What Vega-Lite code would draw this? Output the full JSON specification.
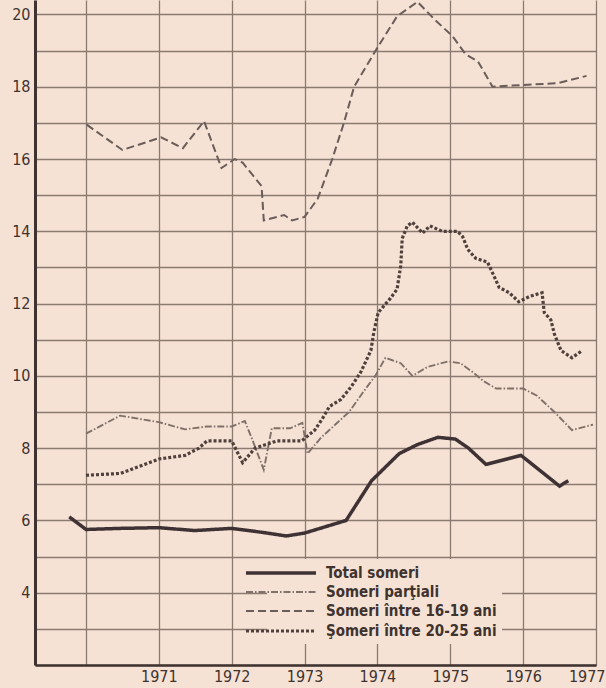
{
  "$schema": "https://vega.github.io/schema/vega-lite/v6.json",
  "width": 561,
  "height": 665,
  "autosize": {"type": "none"},
  "padding": {"left": 35, "top": 0, "right": 10, "bottom": 23},
  "background": "#f6e2d5",
  "config": {
    "view": {"stroke": null},
    "font": "DejaVu Sans Condensed",
    "legend": {
      "orient": "none", "legendX": 232, "legendY": 559,
      "title": null, "symbolType": "M-5,0H5", "symbolSize": 196,
      "labelFontSize": 15, "labelFontWeight": "bold", "labelColor": "#3f332f", "labelOffset": 36,
      "labelLimit": 400,
      "fillColor": "#f6e2d5", "padding": 5, "rowPadding": 3
    }
  },
  "data": {"values": [
    {"series": "Total someri", "year": 1969.77, "value": 6.1},
    {"series": "Total someri", "year": 1970.0, "value": 5.75},
    {"series": "Total someri", "year": 1970.47, "value": 5.78},
    {"series": "Total someri", "year": 1971.0, "value": 5.8},
    {"series": "Total someri", "year": 1971.49, "value": 5.72},
    {"series": "Total someri", "year": 1972.0, "value": 5.78},
    {"series": "Total someri", "year": 1972.42, "value": 5.67},
    {"series": "Total someri", "year": 1972.75, "value": 5.57},
    {"series": "Total someri", "year": 1973.0, "value": 5.65},
    {"series": "Total someri", "year": 1973.57, "value": 6.0},
    {"series": "Total someri", "year": 1973.92, "value": 7.1},
    {"series": "Total someri", "year": 1974.3, "value": 7.85},
    {"series": "Total someri", "year": 1974.55, "value": 8.1},
    {"series": "Total someri", "year": 1974.83, "value": 8.3},
    {"series": "Total someri", "year": 1975.07, "value": 8.25},
    {"series": "Total someri", "year": 1975.25, "value": 8.0},
    {"series": "Total someri", "year": 1975.49, "value": 7.55},
    {"series": "Total someri", "year": 1975.97, "value": 7.8},
    {"series": "Total someri", "year": 1976.5, "value": 6.95},
    {"series": "Total someri", "year": 1976.62, "value": 7.1},

    {"series": "Someri parţiali", "year": 1970.0, "value": 8.4},
    {"series": "Someri parţiali", "year": 1970.47, "value": 8.9},
    {"series": "Someri parţiali", "year": 1971.0, "value": 8.72},
    {"series": "Someri parţiali", "year": 1971.36, "value": 8.52},
    {"series": "Someri parţiali", "year": 1971.66, "value": 8.6},
    {"series": "Someri parţiali", "year": 1972.0, "value": 8.6},
    {"series": "Someri parţiali", "year": 1972.18, "value": 8.75},
    {"series": "Someri parţiali", "year": 1972.28, "value": 8.25},
    {"series": "Someri parţiali", "year": 1972.44, "value": 7.4},
    {"series": "Someri parţiali", "year": 1972.55, "value": 8.55},
    {"series": "Someri parţiali", "year": 1972.8, "value": 8.55},
    {"series": "Someri parţiali", "year": 1972.97, "value": 8.7},
    {"series": "Someri parţiali", "year": 1973.04, "value": 7.85},
    {"series": "Someri parţiali", "year": 1973.23, "value": 8.3},
    {"series": "Someri parţiali", "year": 1973.61, "value": 9.0},
    {"series": "Someri parţiali", "year": 1973.84, "value": 9.65},
    {"series": "Someri parţiali", "year": 1973.97, "value": 10.0},
    {"series": "Someri parţiali", "year": 1974.11, "value": 10.5},
    {"series": "Someri parţiali", "year": 1974.32, "value": 10.35},
    {"series": "Someri parţiali", "year": 1974.48, "value": 10.0},
    {"series": "Someri parţiali", "year": 1974.69, "value": 10.25},
    {"series": "Someri parţiali", "year": 1974.97, "value": 10.4},
    {"series": "Someri parţiali", "year": 1975.14, "value": 10.35},
    {"series": "Someri parţiali", "year": 1975.31, "value": 10.1},
    {"series": "Someri parţiali", "year": 1975.46, "value": 9.85},
    {"series": "Someri parţiali", "year": 1975.63, "value": 9.65},
    {"series": "Someri parţiali", "year": 1976.0, "value": 9.65},
    {"series": "Someri parţiali", "year": 1976.19, "value": 9.45},
    {"series": "Someri parţiali", "year": 1976.43, "value": 9.0},
    {"series": "Someri parţiali", "year": 1976.67, "value": 8.5},
    {"series": "Someri parţiali", "year": 1976.96, "value": 8.65},

    {"series": "Someri între 16-19 ani", "year": 1970.01, "value": 16.95},
    {"series": "Someri între 16-19 ani", "year": 1970.5, "value": 16.25},
    {"series": "Someri între 16-19 ani", "year": 1971.03, "value": 16.6},
    {"series": "Someri între 16-19 ani", "year": 1971.33, "value": 16.3},
    {"series": "Someri între 16-19 ani", "year": 1971.62, "value": 17.05},
    {"series": "Someri între 16-19 ani", "year": 1971.86, "value": 15.75},
    {"series": "Someri între 16-19 ani", "year": 1972.04, "value": 16.0},
    {"series": "Someri între 16-19 ani", "year": 1972.15, "value": 15.9},
    {"series": "Someri între 16-19 ani", "year": 1972.41, "value": 15.25},
    {"series": "Someri între 16-19 ani", "year": 1972.44, "value": 14.3},
    {"series": "Someri între 16-19 ani", "year": 1972.72, "value": 14.45},
    {"series": "Someri între 16-19 ani", "year": 1972.83, "value": 14.3},
    {"series": "Someri între 16-19 ani", "year": 1973.0, "value": 14.4},
    {"series": "Someri între 16-19 ani", "year": 1973.18, "value": 14.9},
    {"series": "Someri între 16-19 ani", "year": 1973.38, "value": 16.0},
    {"series": "Someri între 16-19 ani", "year": 1973.54, "value": 17.0},
    {"series": "Someri între 16-19 ani", "year": 1973.68, "value": 18.0},
    {"series": "Someri între 16-19 ani", "year": 1973.99, "value": 19.05},
    {"series": "Someri între 16-19 ani", "year": 1974.27, "value": 19.95},
    {"series": "Someri între 16-19 ani", "year": 1974.55, "value": 20.35},
    {"series": "Someri între 16-19 ani", "year": 1974.79, "value": 19.85},
    {"series": "Someri între 16-19 ani", "year": 1975.03, "value": 19.4},
    {"series": "Someri între 16-19 ani", "year": 1975.21, "value": 18.9},
    {"series": "Someri între 16-19 ani", "year": 1975.38, "value": 18.7},
    {"series": "Someri între 16-19 ani", "year": 1975.58, "value": 18.0},
    {"series": "Someri între 16-19 ani", "year": 1976.0, "value": 18.05},
    {"series": "Someri între 16-19 ani", "year": 1976.48, "value": 18.1},
    {"series": "Someri între 16-19 ani", "year": 1976.87, "value": 18.3},

    {"series": "Şomeri între 20-25 ani", "year": 1970.0, "value": 7.25},
    {"series": "Şomeri între 20-25 ani", "year": 1970.47, "value": 7.3},
    {"series": "Şomeri între 20-25 ani", "year": 1971.0, "value": 7.7},
    {"series": "Şomeri între 20-25 ani", "year": 1971.36, "value": 7.8},
    {"series": "Şomeri între 20-25 ani", "year": 1971.55, "value": 8.0},
    {"series": "Şomeri între 20-25 ani", "year": 1971.66, "value": 8.2},
    {"series": "Şomeri între 20-25 ani", "year": 1972.0, "value": 8.2},
    {"series": "Şomeri între 20-25 ani", "year": 1972.15, "value": 7.6},
    {"series": "Şomeri între 20-25 ani", "year": 1972.32, "value": 8.0},
    {"series": "Şomeri între 20-25 ani", "year": 1972.62, "value": 8.2},
    {"series": "Şomeri între 20-25 ani", "year": 1972.96, "value": 8.2},
    {"series": "Şomeri între 20-25 ani", "year": 1973.14, "value": 8.5},
    {"series": "Şomeri între 20-25 ani", "year": 1973.24, "value": 8.8},
    {"series": "Şomeri între 20-25 ani", "year": 1973.34, "value": 9.15},
    {"series": "Şomeri între 20-25 ani", "year": 1973.5, "value": 9.35},
    {"series": "Şomeri între 20-25 ani", "year": 1973.64, "value": 9.7},
    {"series": "Şomeri între 20-25 ani", "year": 1973.77, "value": 10.1},
    {"series": "Şomeri între 20-25 ani", "year": 1973.91, "value": 10.7},
    {"series": "Şomeri între 20-25 ani", "year": 1973.95, "value": 11.2},
    {"series": "Şomeri între 20-25 ani", "year": 1974.01, "value": 11.75},
    {"series": "Şomeri între 20-25 ani", "year": 1974.18, "value": 12.15},
    {"series": "Şomeri între 20-25 ani", "year": 1974.27, "value": 12.4},
    {"series": "Şomeri între 20-25 ani", "year": 1974.32, "value": 13.05},
    {"series": "Şomeri între 20-25 ani", "year": 1974.34, "value": 13.8},
    {"series": "Şomeri între 20-25 ani", "year": 1974.41, "value": 14.15},
    {"series": "Şomeri între 20-25 ani", "year": 1974.48, "value": 14.25},
    {"series": "Şomeri între 20-25 ani", "year": 1974.62, "value": 13.95},
    {"series": "Şomeri între 20-25 ani", "year": 1974.72, "value": 14.15},
    {"series": "Şomeri între 20-25 ani", "year": 1974.89, "value": 14.0},
    {"series": "Şomeri între 20-25 ani", "year": 1975.1, "value": 14.0},
    {"series": "Şomeri între 20-25 ani", "year": 1975.17, "value": 13.85},
    {"series": "Şomeri între 20-25 ani", "year": 1975.24, "value": 13.5},
    {"series": "Şomeri între 20-25 ani", "year": 1975.35, "value": 13.25},
    {"series": "Şomeri între 20-25 ani", "year": 1975.51, "value": 13.15},
    {"series": "Şomeri între 20-25 ani", "year": 1975.58, "value": 12.85},
    {"series": "Şomeri între 20-25 ani", "year": 1975.67, "value": 12.45},
    {"series": "Şomeri între 20-25 ani", "year": 1975.81, "value": 12.3},
    {"series": "Şomeri între 20-25 ani", "year": 1975.94, "value": 12.05},
    {"series": "Şomeri între 20-25 ani", "year": 1976.09, "value": 12.2},
    {"series": "Şomeri între 20-25 ani", "year": 1976.26, "value": 12.3},
    {"series": "Şomeri între 20-25 ani", "year": 1976.29, "value": 11.75},
    {"series": "Şomeri între 20-25 ani", "year": 1976.38, "value": 11.55},
    {"series": "Şomeri între 20-25 ani", "year": 1976.43, "value": 11.15},
    {"series": "Şomeri între 20-25 ani", "year": 1976.52, "value": 10.7},
    {"series": "Şomeri între 20-25 ani", "year": 1976.67, "value": 10.5},
    {"series": "Şomeri între 20-25 ani", "year": 1976.81, "value": 10.7}
  ]},
  "mark": {"type": "line", "strokeCap": "butt"},
  "encoding": {
    "x": {
      "field": "year", "type": "quantitative", "title": null,
      "scale": {"domain": [1969.3, 1977], "nice": false, "zero": false},
      "axis": {
        "values": [1970, 1971, 1972, 1973, 1974, 1975, 1976, 1977],
        "format": "d",
        "labelExpr": "datum.value == 1970 ? '' : datum.label",
        "grid": true, "gridColor": "#8a7a70", "gridWidth": 1.3,
        "domainColor": "#3f332f", "domainWidth": 2.5,
        "ticks": false, "labelPadding": 3,
        "labelFontSize": 16, "labelColor": "#3f332f",
        "labelFlush": true, "labelFlushOffset": 9
      }
    },
    "y": {
      "field": "value", "type": "quantitative", "title": null,
      "scale": {"domain": [2, 20.4], "nice": false, "zero": false},
      "axis": {
        "values": [2, 3, 4, 5, 6, 7, 8, 9, 10, 11, 12, 13, 14, 15, 16, 17, 18, 19, 20],
        "labelExpr": "(datum.value % 2 == 0 && datum.value > 2) ? datum.label : ''",
        "grid": true, "gridColor": "#8a7a70", "gridWidth": 1.3,
        "domainColor": "#3f332f", "domainWidth": 3,
        "ticks": false, "labelPadding": 5,
        "labelFontSize": 16, "labelColor": "#3f332f",
        "labelFlush": false
      }
    },
    "color": {
      "field": "series", "type": "nominal",
      "scale": {
        "domain": ["Total someri", "Someri parţiali", "Someri între 16-19 ani", "Şomeri între 20-25 ani"],
        "range": ["#3f3234", "#7f716a", "#6a5c58", "#4f403c"]
      }
    },
    "strokeDash": {
      "field": "series", "type": "nominal",
      "scale": {
        "domain": ["Total someri", "Someri parţiali", "Someri între 16-19 ani", "Şomeri între 20-25 ani"],
        "range": [[1, 0], [7, 2, 1.5, 2], [8, 4], [3, 2]]
      }
    },
    "strokeWidth": {
      "field": "series", "type": "nominal",
      "scale": {
        "type": "ordinal",
        "domain": ["Total someri", "Someri parţiali", "Someri între 16-19 ani", "Şomeri între 20-25 ani"],
        "range": [3.5, 1.9, 2, 3.2]
      }
    }
  }
}
